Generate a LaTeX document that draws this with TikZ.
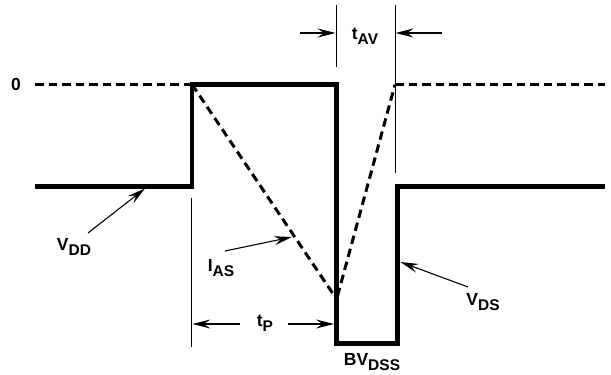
\documentclass[tikz,border=0pt]{standalone}
\usepackage{fontspec}
\setmainfont{Liberation Sans}
\usetikzlibrary{arrows.meta}
\newcommand\lowr[1]{\raisebox{-5pt}{\fontsize{15.5}{17}\selectfont #1}}
\begin{document}
\begin{tikzpicture}[x=1pt,y=-1pt,
  wave/.style={line width=4.6pt, line join=miter},
  thinline/.style={line width=1pt},
  dashline/.style={line width=3pt, dash pattern=on 8.5pt off 5pt},
  arr/.style={line width=1.1pt, -{Stealth[length=18pt,width=9pt,inset=6.5pt]}},
  lbl/.style={font=\fontsize{17.5}{19}\selectfont\bfseries, inner sep=0pt}]
\useasboundingbox (0,0) rectangle (611,375);
% waveform corners
\coordinate (w0) at (35,186.6);
\coordinate (w1) at (192,186.6);
\coordinate (w2) at (192,84.4);
\coordinate (w3) at (336.6,84.4);
\coordinate (w4) at (336.6,343.2);
\coordinate (w5) at (397.6,343.2);
\coordinate (w6) at (397.6,186.6);
\coordinate (w7) at (605,186.6);
% dashed reference lines
\coordinate (d0) at (35,84.4);
\coordinate (d1) at (395,84.6);
\coordinate (d2) at (605,84.6);
\coordinate (ibot) at (334.5,296);
\coordinate (ibot2) at (337.5,296);
\draw[dashline] (d0) -- (w2);
\draw[dashline] (d1) -- (d2);
\draw[dashline] (w2) -- (ibot);
\draw[dashline] (ibot2) -- (d1);
% waveform
\draw[wave] (w0) -- (w1) -- (w2) -- (w3) -- (w4) -- (w5) -- (w6) -- (w7);
% extension lines
\coordinate (ta) at (336.3,5);
\coordinate (tb) at (336.3,67);
\coordinate (tc) at (395,5);
\coordinate (td) at (395,173);
\coordinate (pa) at (191.8,198);
\coordinate (pb) at (191.8,347);
\draw[thinline] (ta) -- (tb);
\draw[thinline] (tc) -- (td);
\draw[thinline] (pa) -- (pb);
% labels
\node[lbl] (zero) at (16,84) {0};
\node[lbl] (tav) at (365,36) {t\lowr{AV}};
\node[lbl] (vdd) at (74,246.5) {V\lowr{DD}};
\node[lbl] (ias) at (221,268) {I\lowr{AS}};
\node[lbl] (tp) at (265,323) {t\lowr{P}};
\node[lbl] (vds) at (483,302) {V\lowr{DS}};
\node[lbl] (bvdss) at (372,362) {BV\lowr{DSS}};
% tAV arrows
\coordinate (tavl) at (300,33);
\coordinate (tavr) at (442,33);
\coordinate (tavlt) at (335.5,33);
\coordinate (tavrt) at (395.5,33);
\draw[arr] (tavl) -- (tavlt);
\draw[arr] (tavr) -- (tavrt);
% tP arrows
\coordinate (tpl) at (240,324);
\coordinate (tplt) at (192.3,324);
\coordinate (tpr) at (288,324);
\coordinate (tprt) at (334,324);
\draw[arr] (tpl) -- (tplt);
\draw[arr] (tpr) -- (tprt);
% pointer arrows
\coordinate (vdds) at (88,233);
\coordinate (vddt) at (145,188.5);
\draw[arr] (vdds) -- (vddt);
\coordinate (iass) at (225,251);
\coordinate (iast) at (292,237);
\draw[arr] (iass) -- (iast);
\coordinate (vdss) at (468,287);
\coordinate (vdst) at (400.5,262);
\draw[arr] (vdss) -- (vdst);
\end{tikzpicture}
\end{document}
